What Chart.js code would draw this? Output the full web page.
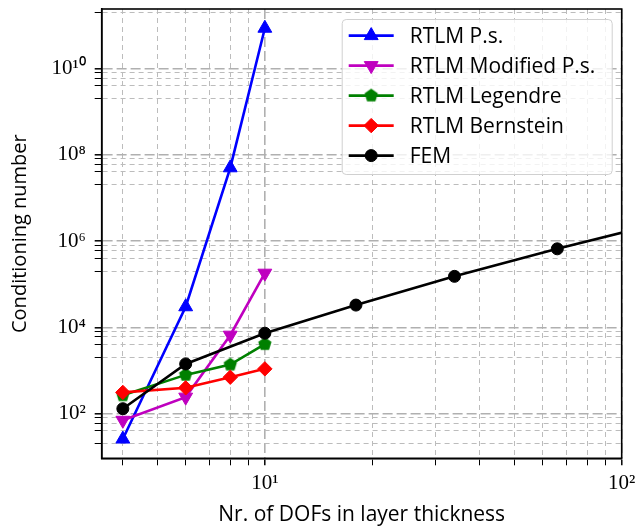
<!DOCTYPE html>
<html><head><meta charset="utf-8">
<script src="https://cdn.jsdelivr.net/npm/chart.js@4.4.1/dist/chart.umd.min.js"></script>
<style>html,body{margin:0;padding:0;background:#fff;} canvas{display:block;}</style>
</head><body>
<canvas id="c" width="638" height="528"></canvas>
<script>
// ---- data ----
const rtlmDofs = [4, 6, 8, 10];
const femDofs = [4, 6, 10, 18, 34, 66, 130];
const psValues = [25.7, 3.0e4, 5.0e7, 8.6e10];
const modPsValues = [70, 241, 6580, 1.8e5];
const legendreValues = [265, 790, 1365, 4080];
const bernsteinValues = [310, 396, 697, 1090];
const femValues = [130, 1416, 7310, 32800, 152000, 661000, 2.7e6];
const seriesLabels = ['RTLM P.s.', 'RTLM Modified P.s.', 'RTLM Legendre', 'RTLM Bernstein', 'FEM'];
const xMajorTicks = [10, 100];
const xMajorLabels = ['10¹', '10²'];
const xMinorTicks = [4, 5, 6, 7, 8, 9, 20, 30, 40, 50, 60, 70, 80, 90];
const yMajorTicks = [1e2, 1e4, 1e6, 1e8, 1e10];
const yMajorLabels = ['10²', '10⁴', '10⁶', '10⁸', '10¹⁰'];
const yMinorTicks = [20, 40, 60, 80, 2e3, 4e3, 6e3, 8e3, 2e5, 4e5, 6e5, 8e5,
                     2e7, 4e7, 6e7, 8e7, 2e9, 4e9, 6e9, 8e9, 2e11];
const xRange = [3.49, 100];
const yRange = [9.2, 2.4e11];
const axisTitleX = 'Nr. of DOFs in layer thickness';
const axisTitleY = 'Conditioning number';

// ---- helpers ----
const pts = (xs, ys) => xs.map((x, i) => ({x: x, y: ys[i]}));
function pentagon(r, color) {
  const c = document.createElement('canvas');
  const s = Math.ceil(2 * r + 2);
  c.width = s; c.height = s;
  const g = c.getContext('2d');
  g.beginPath();
  for (let k = 0; k < 5; k++) {
    const a = -Math.PI / 2 + k * 2 * Math.PI / 5;
    const px = s / 2 + r * Math.cos(a), py = s / 2 + r * Math.sin(a);
    if (k === 0) g.moveTo(px, py); else g.lineTo(px, py);
  }
  g.closePath();
  g.fillStyle = color; g.fill();
  return c;
}
const isMajorX = v => xMajorTicks.indexOf(v) >= 0;
const isMajorY = v => yMajorTicks.indexOf(v) >= 0;

function mkDs(label, data, color, style, radius, rotation, order) {
  return {
    label, data, borderColor: color, backgroundColor: color,
    pointBackgroundColor: color, pointBorderColor: color,
    pointStyle: style, pointRadius: radius, pointHoverRadius: radius,
    pointRotation: rotation, pointBorderWidth: 1, borderWidth: 2.6,
    tension: 0, fill: false, order
  };
}

const datasets = [
  mkDs(seriesLabels[0], pts(rtlmDofs, psValues), '#0000ff', 'triangle', 8, 0, 5),
  mkDs(seriesLabels[1], pts(rtlmDofs, modPsValues), '#bf00bf', 'triangle', 8, 180, 4),
  mkDs(seriesLabels[2], pts(rtlmDofs, legendreValues), '#008000', pentagon(7, '#008000'), 7, 0, 3),
  mkDs(seriesLabels[3], pts(rtlmDofs, bernsteinValues), '#ff0000', 'rectRot', 7.2, 0, 2),
  mkDs(seriesLabels[4], pts(femDofs, femValues), '#000000', 'circle', 6, 0, 1)
];

const framePlugin = {
  id: 'frame',
  afterDraw(chart) {
    const {ctx, chartArea: a} = chart;
    ctx.save();
    ctx.strokeStyle = '#000'; ctx.lineWidth = 1.6;
    ctx.strokeRect(a.left, a.top, a.right - a.left, a.bottom - a.top);
    ctx.restore();
  }
};

const legendPlugin = {
  id: 'boxLegend',
  afterDraw(chart) {
    const {ctx, chartArea} = chart;
    const w = 270, h = 155;
    const x0 = chartArea.right - 10 - w, y0 = chartArea.top + 10;
    ctx.save();
    ctx.beginPath();
    if (ctx.roundRect) ctx.roundRect(x0 + 0.5, y0 + 0.5, w, h, 4); else ctx.rect(x0 + 0.5, y0 + 0.5, w, h);
    ctx.fillStyle = 'rgba(255,255,255,0.8)'; ctx.fill();
    ctx.strokeStyle = '#d0d0d0'; ctx.lineWidth = 1; ctx.stroke();
    chart.data.datasets.forEach((ds, i) => {
      const y = y0 + 16.6 + i * 30;
      const lx = x0 + 7;
      ctx.beginPath(); ctx.moveTo(lx, y); ctx.lineTo(lx + 45, y);
      ctx.strokeStyle = ds.borderColor; ctx.lineWidth = ds.borderWidth; ctx.stroke();
      ctx.fillStyle = ds.pointBackgroundColor; ctx.strokeStyle = ds.pointBorderColor; ctx.lineWidth = 1;
      Chart.helpers.drawPoint(ctx, {pointStyle: ds.pointStyle, radius: ds.pointRadius,
        rotation: ds.pointRotation || 0, borderWidth: 1}, lx + 22.5, y);
      ctx.fillStyle = '#000'; ctx.font = '21px "Open Sans"'; ctx.textBaseline = 'middle'; ctx.textAlign = 'left';
      ctx.fillText(ds.label, x0 + 68, y + 1);
    });
    ctx.restore();
  }
};

new Chart(document.getElementById('c'), {
  type: 'line',
  data: {datasets},
  plugins: [framePlugin, legendPlugin],
  options: {
    responsive: false, animation: false, devicePixelRatio: 1,
    layout: {padding: {left: 0, right: 16.3, top: 5.7, bottom: 0}},
    plugins: {legend: {display: false}, tooltip: {enabled: false}},
    scales: {
      x: {
        type: 'logarithmic', min: xRange[0], max: xRange[1],
        afterBuildTicks: s => { s.ticks = xMinorTicks.concat(xMajorTicks).sort((a, b) => a - b).map(v => ({value: v})); },
        afterFit: s => { s.height = 69.7; s.paddingLeft = 0; s.paddingRight = 0; },
        ticks: {
          autoSkip: false, maxRotation: 0, padding: 6, color: '#000',
          font: {family: 'Liberation Serif', size: 21},
          callback: v => { const i = xMajorTicks.indexOf(v); return i >= 0 ? xMajorLabels[i] : ''; }
        },
        grid: {
          color: c => (c.tick && isMajorX(c.tick.value)) ? '#b0b0b0' : '#bcbcbc',
          lineWidth: c => (c.tick && isMajorX(c.tick.value)) ? 1.6 : 1,
          tickColor: '#000', tickLength: 7, tickBorderDash: [],
          tickWidth: c => (c.tick && isMajorX(c.tick.value)) ? 1.5 : 1
        },
        border: {display: true, color: '#000', width: 1.6,
          dash: c => (c.tick && isMajorX(c.tick.value)) ? [10, 4] : [5, 4]},
        title: {display: true, text: axisTitleX, color: '#000',
          font: {family: 'Open Sans', size: 21}, padding: {top: 0, bottom: 0}}
      },
      y: {
        type: 'logarithmic', min: yRange[0], max: yRange[1],
        afterBuildTicks: s => { s.ticks = yMinorTicks.concat(yMajorTicks).sort((a, b) => a - b).map(v => ({value: v})); },
        afterFit: s => { s.width = 101.7; s.paddingTop = 0; s.paddingBottom = 0; },
        ticks: {
          autoSkip: false, padding: 9, color: '#000',
          font: {family: 'Liberation Serif', size: 21},
          callback: v => { const i = yMajorTicks.indexOf(v); return i >= 0 ? yMajorLabels[i] : ''; }
        },
        grid: {
          color: c => (c.tick && isMajorY(c.tick.value)) ? '#b0b0b0' : '#bcbcbc',
          lineWidth: c => (c.tick && isMajorY(c.tick.value)) ? 1.6 : 1,
          tickColor: '#000', tickLength: 7, tickBorderDash: [],
          tickWidth: c => (c.tick && isMajorY(c.tick.value)) ? 1.5 : 1
        },
        border: {display: true, color: '#000', width: 1.6,
          dash: c => (c.tick && isMajorY(c.tick.value)) ? [10, 4] : [5, 4]},
        title: {display: true, text: axisTitleY, color: '#000',
          font: {family: 'Open Sans', size: 20}, padding: {top: 8, bottom: 0}}
      }
    }
  }
});
</script>
</body></html>
